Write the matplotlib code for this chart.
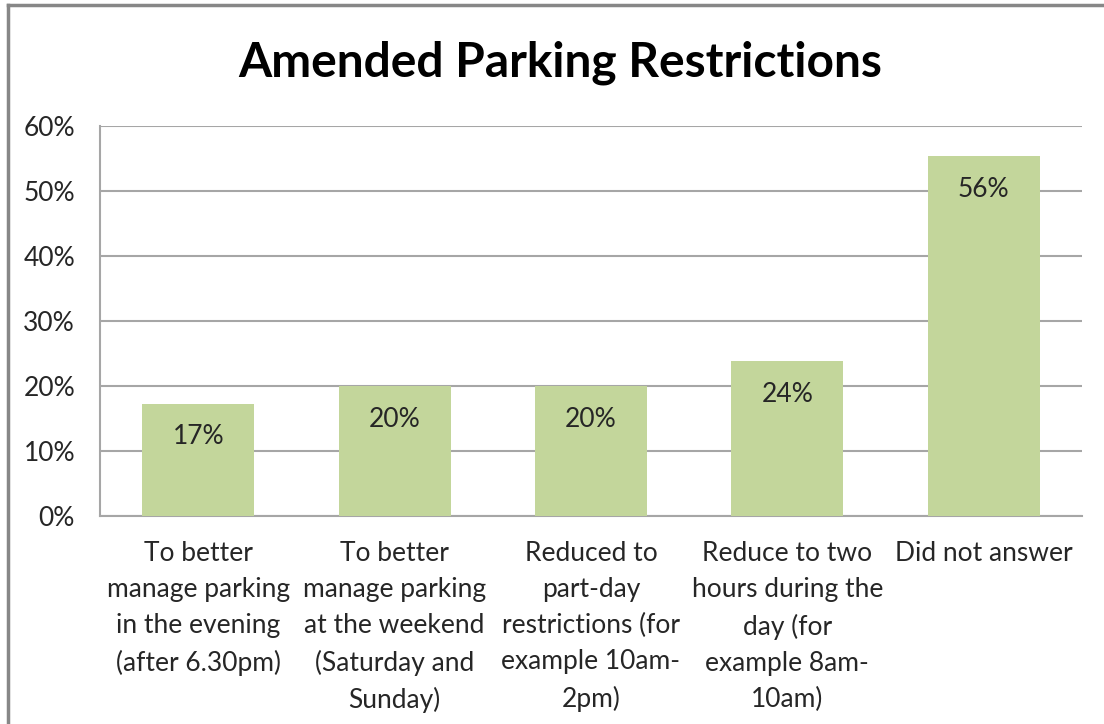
import matplotlib.pyplot as plt
from matplotlib.lines import Line2D

# Data
categories = [
    'To better\nmanage parking\nin the evening\n(after 6.30pm)',
    'To better\nmanage parking\nat the weekend\n(Saturday and\nSunday)',
    'Reduced to\npart-day\nrestrictions (for\nexample 10am-\n2pm)',
    'Reduce to two\nhours during the\nday (for\nexample 8am-\n10am)',
    'Did not answer',
]
values = [17.3, 20.0, 20.0, 23.8, 55.4]
value_labels = ['17%', '20%', '20%', '24%', '56%']
y_ticks = [0, 10, 20, 30, 40, 50, 60]
y_tick_labels = ['0%', '10%', '20%', '30%', '40%', '50%', '60%']

plt.rcParams['font.family'] = ['Lato', 'DejaVu Sans']
text_color = '#262626'
grid_color = '#a6a6a6'

fig = plt.figure(figsize=(11.04, 7.24), dpi=100)
ax = fig.add_axes([0.0906, 0.2873, 0.8894, 0.5387])

x = range(len(categories))
ax.bar(x, values, width=0.57, color='#c3d69b', zorder=3)

# Value labels inside the top of each bar
for xi, v, lab in zip(x, values, value_labels):
    ax.annotate(lab, (xi, v), xytext=(0, -24), textcoords='offset points',
                ha='center', va='center', fontsize=19, color=text_color, zorder=4)

ax.set_xlim(-0.5, len(categories) - 0.5)
ax.set_ylim(0, 60)
ax.set_yticks(y_ticks)
ax.set_yticklabels(y_tick_labels, fontsize=19, color=text_color)
ax.set_xticks(list(x))
ax.set_xticklabels(categories, fontsize=19, color=text_color, linespacing=1.55, va='top')
ax.tick_params(axis='both', length=0)
ax.tick_params(axis='y', pad=18)
ax.tick_params(axis='x', pad=18)

ax.grid(axis='y', color=grid_color, linewidth=1.5, zorder=0)
for side in ['top', 'right']:
    ax.spines[side].set_visible(False)
for side in ['left', 'bottom']:
    ax.spines[side].set_color(grid_color)
    ax.spines[side].set_linewidth(1.5)

fig.text(0.507, 0.913, 'Amended Parking Restrictions', ha='center', va='center',
         fontsize=34.5, fontweight='bold', color='black')

# Chart area border (left and top edges visible)
fig.add_artist(Line2D([8 / 1104, 8 / 1104], [0, 1 - 5 / 724], color='#878787', lw=2.5))
fig.add_artist(Line2D([8 / 1104, 1], [1 - 5 / 724, 1 - 5 / 724], color='#878787', lw=2.5))

fig.savefig('out.png', dpi=100)
